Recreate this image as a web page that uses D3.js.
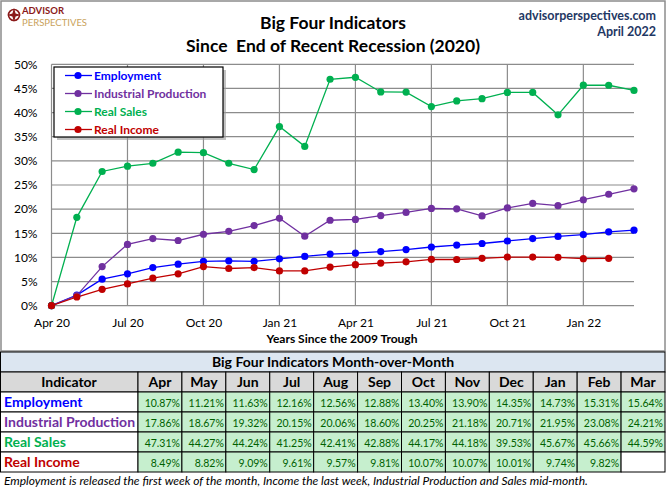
<!DOCTYPE html>
<html>
<head>
  <meta charset="utf-8">
  <title>Big Four Indicators</title>
  <style>
    body { margin: 0; background: #fff; }
    text { font-family: Lato, "Open Sans", sans-serif; }
  </style>
</head>
<body>
  <div id="chart"></div>

  <script src="https://cdn.jsdelivr.net/npm/d3@7"></script>
  <script>

    // month labels, Apr 20 .. Mar 22
    let months = ['Apr 20','May 20','Jun 20','Jul 20','Aug 20','Sep 20','Oct 20','Nov 20','Dec 20',
                  'Jan 21','Feb 21','Mar 21','Apr 21','May 21','Jun 21','Jul 21','Aug 21','Sep 21',
                  'Oct 21','Nov 21','Dec 21','Jan 22','Feb 22','Mar 22'];
    let xTicks = ['Apr 20','Jul 20','Oct 20','Jan 21','Apr 21','Jul 21','Oct 21','Jan 22'];
    let yTicks = [0, 5, 10, 15, 20, 25, 30, 35, 40, 45, 50];

    // cumulative % change since Apr 2020
    let employment = [0, 2.2, 5.5, 6.6, 7.9, 8.6, 9.2, 9.3, 9.2, 9.7, 10.2, 10.7,
                      10.87, 11.21, 11.63, 12.16, 12.56, 12.88, 13.40, 13.90, 14.35, 14.73, 15.31, 15.64];
    let industrial = [0, 2.1, 8.1, 12.7, 13.9, 13.5, 14.8, 15.4, 16.6, 18.1, 14.4, 17.7,
                      17.86, 18.67, 19.32, 20.15, 20.06, 18.60, 20.25, 21.18, 20.71, 21.95, 23.08, 24.21];
    let realSales = [0, 18.3, 27.8, 28.9, 29.5, 31.8, 31.7, 29.5, 28.2, 37.1, 33.0, 46.9,
                     47.31, 44.27, 44.24, 41.25, 42.41, 42.88, 44.17, 44.18, 39.53, 45.67, 45.66, 44.59];
    let realIncome = [0, 1.8, 3.4, 4.5, 5.7, 6.6, 8.1, 7.7, 7.9, 7.2, 7.2, 8.0,
                      8.49, 8.82, 9.09, 9.61, 9.57, 9.81, 10.07, 10.07, 10.01, 9.74, 9.82, null];

    let seriesNames = ['Employment', 'Industrial Production', 'Real Sales', 'Real Income'];
    let seriesColors = ['#0000ff', '#7030a0', '#00b050', '#c00000'];
    let seriesValues = [employment, industrial, realSales, realIncome];

    // table columns (last 12 months)
    let tableMonths = ['Apr','May','Jun','Jul','Aug','Sep','Oct','Nov','Dec','Jan','Feb','Mar'];

    function translate(x, y) {
      return 'translate(' + x + ',' + y + ')';
    }

    let svgWidth = 667;
    let svgHeight = 488;

    let svg = d3.select('#chart')
      .append('svg')
        .attr('width', svgWidth)
        .attr('height', svgHeight);

    //============================== header ==============================//
    // chart frame
    svg.append('rect')
      .attr('x', 1).attr('y', 1)
      .attr('width', 664).attr('height', 350)
      .attr('fill', '#fff')
      .attr('stroke', '#8c8c8c')
      .attr('stroke-width', 1.5);

    // logo
    let logo = svg.append('g').attr('transform', translate(14, 15));
    logo.append('circle').attr('r', 5.5).attr('fill', 'none').attr('stroke', '#8b1a1a').attr('stroke-width', 1.6);
    logo.append('path')
      .attr('d', 'M0,-7 L1.6,-1.6 L7,0 L1.6,1.6 L0,7 L-1.6,1.6 L-7,0 L-1.6,-1.6 Z')
      .attr('fill', '#8b1a1a');
    svg.append('text')
      .attr('x', 22).attr('y', 13.5)
      .style('font-size', '9.5px').style('font-weight', 'bold')
      .style('fill', '#8b1a1a')
      .text('ADVISOR');
    svg.append('text')
      .attr('x', 22).attr('y', 25.5)
      .style('font-size', '9.5px')
      .style('fill', '#c9a25a')
      .text('PERSPECTIVES');

    // title
    svg.append('text')
      .attr('x', 333).attr('y', 29)
      .attr('text-anchor', 'middle')
      .style('font-size', '17.5px').style('font-weight', 'bold')
      .text('Big Four Indicators');
    svg.append('text')
      .attr('x', 333).attr('y', 52)
      .attr('text-anchor', 'middle')
      .style('font-size', '17.5px').style('font-weight', 'bold')
      .style('white-space', 'pre')
      .text('Since  End of Recent Recession (2020)');

    svg.append('text')
      .attr('x', 656).attr('y', 20)
      .attr('text-anchor', 'end')
      .style('font-size', '12.5px').style('font-weight', 'bold')
      .style('fill', '#1f3864')
      .text('advisorperspectives.com');
    svg.append('text')
      .attr('x', 656).attr('y', 36)
      .attr('text-anchor', 'end')
      .style('font-size', '12.5px').style('font-weight', 'bold')
      .style('fill', '#1f3864')
      .text('April 2022');

    //============================== line chart ==============================//
    let x = d3.scalePoint()
      .domain(months)
      .range([51.5, 634]);

    let y = d3.scaleLinear()
      .domain([0, 50])
      .range([305.7, 64.3]);

    let plot = svg.append('g');

    // horizontal grid
    plot.append('g')
      .selectAll('line')
      .data(yTicks)
      .enter()
      .append('line')
        .attr('x1', x(months[0])).attr('x2', x(months[months.length - 1]))
        .attr('y1', d => y(d)).attr('y2', d => y(d))
        .attr('stroke', '#8c8c8c')
        .attr('stroke-width', 1.2);

    // vertical grid
    plot.append('g')
      .selectAll('line')
      .data(xTicks)
      .enter()
      .append('line')
        .attr('x1', d => x(d)).attr('x2', d => x(d))
        .attr('y1', y(0)).attr('y2', y(50))
        .attr('stroke', '#8c8c8c')
        .attr('stroke-width', 1.2);

    // y axis labels
    let yAxis = d3.axisLeft(y)
      .tickValues(yTicks)
      .tickSize(0)
      .tickPadding(14)
      .tickFormat(d => d + '%');
    plot.append('g')
      .attr('transform', translate(x(months[0]), 0))
      .call(yAxis)
      .call(g => g.select('.domain').remove())
      .selectAll('text')
        .style('font-family', 'Lato, sans-serif')
        .style('font-size', '12px')
        .style('fill', '#000');

    // x axis labels
    let xAxis = d3.axisBottom(x)
      .tickValues(xTicks)
      .tickSize(0)
      .tickPadding(13);
    plot.append('g')
      .attr('transform', translate(0, y(0)))
      .call(xAxis)
      .call(g => g.select('.domain').remove())
      .selectAll('text')
        .style('font-family', 'Lato, sans-serif')
        .style('font-size', '12px')
        .style('fill', '#000');

    plot.append('text')
      .attr('x', 342).attr('y', 343)
      .attr('text-anchor', 'middle')
      .style('font-size', '12px').style('font-weight', 'bold')
      .text('Years Since the 2009 Trough');

    // lines + markers
    let line = d3.line()
      .defined(d => d != null)
      .x((d, i) => x(months[i]))
      .y(d => y(d));

    seriesValues.forEach(function (vals, k) {
      plot.append('path')
        .datum(vals)
        .attr('d', line)
        .attr('fill', 'none')
        .attr('stroke', seriesColors[k])
        .attr('stroke-width', 1.3);
    });
    seriesValues.forEach(function (vals, k) {
      plot.append('g')
        .selectAll('circle')
        .data(vals.map((v, i) => ({v: v, m: months[i]})).filter(d => d.v != null))
        .enter()
        .append('circle')
          .attr('cx', d => x(d.m))
          .attr('cy', d => y(d.v))
          .attr('r', 3.6)
          .attr('fill', seriesColors[k]);
    });

    // legend
    let legendBox = svg.append('g').attr('transform', translate(54, 67));
    legendBox.append('rect')
      .attr('x', 3).attr('y', 3)
      .attr('width', 169).attr('height', 70)
      .attr('fill', '#9a9a9a')
      .attr('opacity', 0.6);
    legendBox.append('rect')
      .attr('width', 169).attr('height', 70)
      .attr('fill', '#fff')
      .attr('stroke', '#000')
      .attr('stroke-width', 1.2);

    let legend = legendBox.selectAll('.legend')
      .data(seriesNames)
      .enter()
      .append('g')
        .attr('transform', (d, i) => translate(0, 8.5 + i * 18));
    legend.append('line')
      .attr('x1', 11).attr('x2', 38)
      .attr('stroke', (d, i) => seriesColors[i])
      .attr('stroke-width', 1.3);
    legend.append('circle')
      .attr('cx', 24).attr('r', 3.6)
      .attr('fill', (d, i) => seriesColors[i]);
    legend.append('text')
      .attr('x', 40).attr('dy', 4)
      .style('font-size', '12px').style('font-weight', 'bold')
      .style('fill', (d, i) => seriesColors[i])
      .text(d => d);

    //============================== table ==============================//
    let tTop = 352;
    let rowH = 20;
    let firstColW = 138;
    let tRight = 665;
    let colX = d3.scaleBand()
      .domain(tableMonths)
      .range([firstColW, tRight]);

    let table = svg.append('g');

    // title row
    table.append('rect')
      .attr('x', 0.5).attr('y', tTop)
      .attr('width', tRight - 0.5).attr('height', rowH)
      .attr('fill', '#dce6f1').attr('stroke', '#000');
    table.append('text')
      .attr('x', 333).attr('y', tTop + 15)
      .attr('text-anchor', 'middle')
      .style('font-size', '14px').style('font-weight', 'bold')
      .text('Big Four Indicators Month-over-Month');

    // header row
    let hy = tTop + rowH;
    table.append('rect')
      .attr('x', 0.5).attr('y', hy)
      .attr('width', firstColW - 0.5).attr('height', rowH)
      .attr('fill', '#d9d9d9').attr('stroke', '#000');
    table.append('text')
      .attr('x', firstColW / 2).attr('y', hy + 15)
      .attr('text-anchor', 'middle')
      .style('font-size', '14px').style('font-weight', 'bold')
      .text('Indicator');
    table.selectAll('.hcell')
      .data(tableMonths)
      .enter()
      .append('rect')
        .attr('x', d => colX(d)).attr('y', hy)
        .attr('width', colX.bandwidth()).attr('height', rowH)
        .attr('fill', '#d9d9d9').attr('stroke', '#000');
    table.selectAll('.htext')
      .data(tableMonths)
      .enter()
      .append('text')
        .attr('x', d => colX(d) + colX.bandwidth() / 2).attr('y', hy + 15)
        .attr('text-anchor', 'middle')
        .style('font-size', '14px').style('font-weight', 'bold')
        .text(d => d);

    // data rows
    seriesNames.forEach(function (name, k) {
      let ry = tTop + rowH * (k + 2);
      let vals = seriesValues[k].slice(12);
      table.append('rect')
        .attr('x', 0.5).attr('y', ry)
        .attr('width', firstColW - 0.5).attr('height', rowH)
        .attr('fill', '#fff').attr('stroke', '#000');
      table.append('text')
        .attr('x', 4).attr('y', ry + 15)
        .style('font-size', '14px').style('font-weight', 'bold')
        .style('fill', seriesColors[k])
        .text(name);
      let cells = table.append('g')
        .selectAll('g')
        .data(vals.map((v, i) => ({v: v, m: tableMonths[i]})))
        .enter()
        .append('g');
      cells.append('rect')
        .attr('x', d => colX(d.m)).attr('y', ry)
        .attr('width', colX.bandwidth()).attr('height', rowH)
        .attr('fill', d => d.v == null ? '#fff' : '#c6efce')
        .attr('stroke', '#000');
      cells.append('text')
        .attr('x', d => colX(d.m) + colX.bandwidth() - 2).attr('y', ry + 14.5)
        .attr('text-anchor', 'end')
        .style('font-size', '10.5px')
        .style('fill', '#006100')
        .text(d => d.v == null ? '' : d.v.toFixed(2) + '%');
    });

    // footnote
    svg.append('text')
      .attr('x', 4).attr('y', 485)
      .style('font-size', '12px').style('font-style', 'italic')
      .text('Employment is released the first week of the month, Income the last week, Industrial Production and Sales mid-month.');

  </script>
</body>
</html>
